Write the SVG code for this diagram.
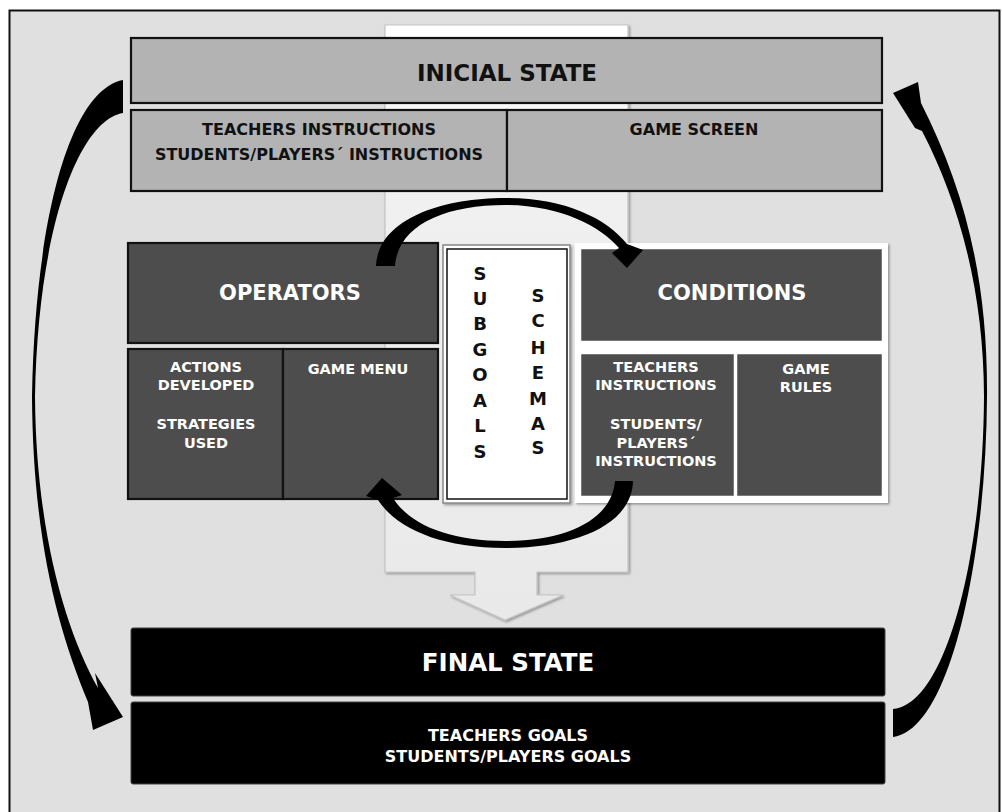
<svg xmlns="http://www.w3.org/2000/svg" width="1002" height="812" viewBox="0 0 1002 812">
<defs>
<linearGradient id="colg" x1="0" y1="0" x2="0" y2="1">
<stop offset="0" stop-color="#ffffff"/>
<stop offset="0.3" stop-color="#f0f0f0"/>
<stop offset="1" stop-color="#e9e9e9"/>
</linearGradient>
<filter id="sh" x="-5%" y="-5%" width="115%" height="115%">
<feDropShadow dx="1.5" dy="1.5" stdDeviation="1.2" flood-color="#000" flood-opacity="0.35"/>
</filter>
</defs>
<style>
.t{font-family:"DejaVu Sans","Liberation Sans",sans-serif;font-weight:bold;text-anchor:middle}
.lt{fill:#b3b3b3;stroke:#111;stroke-width:2.2}
.dk{fill:#4d4d4d;stroke:#111;stroke-width:2.2}
.dkw{fill:#4d4d4d;stroke:#fff;stroke-width:2.5}
.bk{fill:#000;stroke:#444;stroke-width:1}
.w{fill:#fff}
.b{fill:#111}
.arr{fill:#000}
</style>
<rect x="0" y="0" width="1002" height="812" fill="#fff"/>
<rect x="9.5" y="10.5" width="990" height="810" fill="#e0e0e0" stroke="#111" stroke-width="2"/>

<g id="flow-column">
<path d="M385 25 L628 25 L628 572 L537 572 L537 595 L563 595 L505 620 L450 595 L475 595 L475 572 L385 572 Z" fill="url(#colg)" stroke="#c4c4c4" stroke-width="1.2" filter="url(#sh)"/>
</g>

<g id="initial-state">
<rect class="lt" x="131" y="38" width="751" height="65"/>
<text class="t b" x="507" y="81" font-size="23">INICIAL STATE</text>
</g>
<g id="initial-instructions">
<rect class="lt" x="131" y="110" width="376" height="81"/>
<text class="t b" x="319" y="135" font-size="16">TEACHERS INSTRUCTIONS</text>
<text class="t b" x="319" y="160" font-size="16">STUDENTS/PLAYERS´ INSTRUCTIONS</text>
</g>
<g id="game-screen">
<rect class="lt" x="507" y="110" width="375" height="81"/>
<text class="t b" x="694" y="135" font-size="16">GAME SCREEN</text>
</g>

<g id="operators">
<rect class="dk" x="128" y="243" width="310" height="100"/>
<text class="t w" x="290" y="300" font-size="21">OPERATORS</text>
</g>
<g id="actions">
<rect class="dk" x="128" y="349" width="155" height="150"/>
<text class="t w" x="206" y="372" font-size="14.5">ACTIONS</text>
<text class="t w" x="206" y="390" font-size="14.5">DEVELOPED</text>
<text class="t w" x="206" y="429" font-size="14.5">STRATEGIES</text>
<text class="t w" x="206" y="448" font-size="14.5">USED</text>
</g>
<g id="game-menu">
<rect class="dk" x="283" y="349" width="155" height="150"/>
<text class="t w" x="358" y="374" font-size="14.5">GAME MENU</text>
</g>

<g id="subgoals-schemas">
<rect x="443" y="245" width="127" height="258" fill="#fff" stroke="#888" stroke-width="1.5" filter="url(#sh)"/>
<rect x="447" y="249" width="120" height="250" fill="#fff" stroke="#111" stroke-width="1.5"/>
<text class="t b" x="480" font-size="18"><tspan x="480" y="280">S</tspan><tspan x="480" y="305">U</tspan><tspan x="480" y="330">B</tspan><tspan x="480" y="356">G</tspan><tspan x="480" y="381">O</tspan><tspan x="480" y="407">A</tspan><tspan x="480" y="432">L</tspan><tspan x="480" y="458">S</tspan></text>
<text class="t b" x="538" font-size="18"><tspan x="538" y="302">S</tspan><tspan x="538" y="327">C</tspan><tspan x="538" y="354">H</tspan><tspan x="538" y="379">E</tspan><tspan x="538" y="405">M</tspan><tspan x="538" y="430">A</tspan><tspan x="538" y="454">S</tspan></text>
</g>

<g id="conditions-frame">
<rect x="575" y="243" width="313" height="260" fill="#fff" filter="url(#sh)"/>
</g>
<g id="conditions">
<rect class="dkw" x="580" y="248" width="303" height="94"/>
<text class="t w" x="732" y="300" font-size="21">CONDITIONS</text>
</g>
<g id="condition-instructions">
<rect class="dkw" x="580" y="353" width="155" height="144"/>
<text class="t w" x="656" y="372" font-size="14.5">TEACHERS</text>
<text class="t w" x="656" y="390" font-size="14.5">INSTRUCTIONS</text>
<text class="t w" x="656" y="429" font-size="14.5">STUDENTS/</text>
<text class="t w" x="656" y="448" font-size="14.5">PLAYERS´</text>
<text class="t w" x="656" y="466" font-size="14.5">INSTRUCTIONS</text>
</g>
<g id="game-rules">
<rect class="dkw" x="736" y="353" width="147" height="144"/>
<text class="t w" x="806" y="374" font-size="14.5">GAME</text>
<text class="t w" x="806" y="392" font-size="14.5">RULES</text>
</g>

<g id="final-state">
<rect class="bk" x="131" y="628" width="754" height="68" rx="2"/>
<text class="t w" x="508" y="671" font-size="24.5">FINAL STATE</text>
</g>
<g id="final-goals">
<rect class="bk" x="131" y="702" width="754" height="82" rx="2"/>
<text class="t w" x="508" y="741" font-size="16">TEACHERS GOALS</text>
<text class="t w" x="508" y="762" font-size="16">STUDENTS/PLAYERS GOALS</text>
</g>

<g id="connectors">
<path class="arr" d="M123 80 C70 90 35 220 32 397 C33 540 58 630 88 702 L93 730 L123 717 L95 673 L98 688 C65 630 36 530 35 397 C38 225 80 120 123 113 Z"/>
<path class="arr" d="M893 737 C950 730 986 560 987 397 C988 280 965 190 921 103 L918 82 L893 93 L915 128 L922 131 C958 200 984 290 984 397 C983 560 945 705 893 709 Z"/>
<path class="arr" d="M376 266 C378 220 440 198 505 198 C565 198 606 218 627 244 L643 250 L627 268 L612 253 L619 248 C600 226 560 205 505 205 C445 205 398 225 395 266 Z"/>
<path class="arr" d="M633 481 C632 525 575 548 505 548 C440 548 396 528 378 500 L366 496 L382 478 L402 495 L393 498 C410 525 450 541 505 541 C570 541 612 518 615 481 Z"/>
</g>
</svg>
